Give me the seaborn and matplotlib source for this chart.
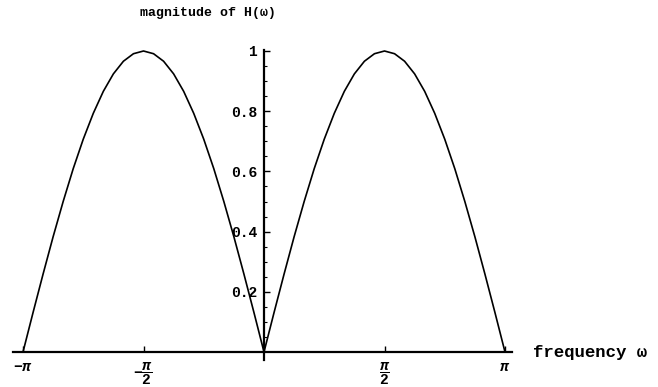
import numpy as np
import pandas as pd
import matplotlib
matplotlib.use("Agg")
import matplotlib.pyplot as plt
import seaborn as sns

# Frequency samples (multiples of pi/24 over one period) and |H(w)|
omega_step = np.pi / 24
omega_index = list(range(-24, 25))
magnitude = [
    0.0, 0.131, 0.259, 0.383, 0.5, 0.609, 0.707, 0.793, 0.866, 0.924, 0.966, 0.991,
    1.0,
    0.991, 0.966, 0.924, 0.866, 0.793, 0.707, 0.609, 0.5, 0.383, 0.259, 0.131,
    0.0,
    0.131, 0.259, 0.383, 0.5, 0.609, 0.707, 0.793, 0.866, 0.924, 0.966, 0.991,
    1.0,
    0.991, 0.966, 0.924, 0.866, 0.793, 0.707, 0.609, 0.5, 0.383, 0.259, 0.131,
    0.0,
]

x_ticks = [-np.pi, -np.pi / 2, np.pi / 2, np.pi]
x_tick_labels = [r"$-\mathit{\pi}$", r"$-\dfrac{\mathit{\pi}}{2}$",
                 r"$\dfrac{\mathit{\pi}}{2}$", r"$\mathit{\pi}$"]
y_ticks = [0.2, 0.4, 0.6, 0.8, 1.0]
y_tick_labels = ["0.2", "0.4", "0.6", "0.8", "1"]

title_text = "magnitude of H(ω)"
xlabel_text = "frequency ω"

df = pd.DataFrame({"omega": np.array(omega_index) * omega_step,
                   "magnitude": magnitude})

sns.set_theme(style="white")
plt.rcParams["font.family"] = ["Liberation Mono", "DejaVu Sans Mono"]
plt.rcParams["font.weight"] = "bold"
plt.rcParams["text.color"] = "black"
plt.rcParams["xtick.color"] = "black"
plt.rcParams["ytick.color"] = "black"
plt.rcParams["mathtext.fontset"] = "custom"
plt.rcParams["mathtext.rm"] = "Liberation Mono:bold"
plt.rcParams["mathtext.bf"] = "Liberation Mono:bold"
plt.rcParams["mathtext.it"] = "Liberation Mono:bold:italic"

W, H = 658, 387
fig = plt.figure(figsize=(W / 100, H / 100), dpi=100)
fig.patch.set_facecolor("white")

# axes box in pixel terms: x axis from 13 to 512, y from 49.5 to 360
ax = fig.add_axes([13 / W, (H - 360) / H, 499 / W, (360 - 49.5) / H])
ax.set_facecolor("white")

sns.lineplot(data=df, x="omega", y="magnitude", ax=ax, color="black",
             linewidth=1.2, sort=True, estimator=None)

px_per_unit_x = 241 / np.pi
ax.set_xlim((13 - 264) / px_per_unit_x, (512 - 264) / px_per_unit_x)
ax.set_ylim((352 - 360) / 301, (352 - 49.5) / 301)

for side in ("top", "right"):
    ax.spines[side].set_visible(False)
ax.spines["left"].set_position(("data", 0))
ax.spines["bottom"].set_position(("data", 0))
for side in ("left", "bottom"):
    ax.spines[side].set_color("black")
    ax.spines[side].set_linewidth(1.6)

ax.set_xticks(x_ticks)
ax.set_xticklabels(x_tick_labels)
ax.set_yticks(y_ticks)
ax.set_yticklabels(y_tick_labels)
ax.set_yticks(np.arange(0.05, 1.0, 0.05), minor=True)

ax.tick_params(axis="x", direction="in", length=4, width=1.0, pad=6,
               labelsize=10.5, colors="black", bottom=True)
ax.tick_params(axis="y", direction="in", length=4, width=1.0, pad=5,
               labelsize=10.5, colors="black", left=True)
ax.tick_params(axis="y", which="minor", direction="in", length=2, width=0.8,
               left=True)
for lbl in ax.get_yticklabels():
    lbl.set_fontweight("bold")

ax.set_xlabel("")
ax.set_ylabel("")
ax.grid(False)

fig.text(208 / W, 1 - 13 / H, title_text, ha="center", va="center",
         fontsize=9.5, fontweight="bold", color="black")
fig.text(533 / W, 1 - 353 / H, xlabel_text, ha="left", va="center",
         fontsize=12.5, fontweight="bold", color="black")

fig.savefig("out.png", dpi=100, facecolor="white")
